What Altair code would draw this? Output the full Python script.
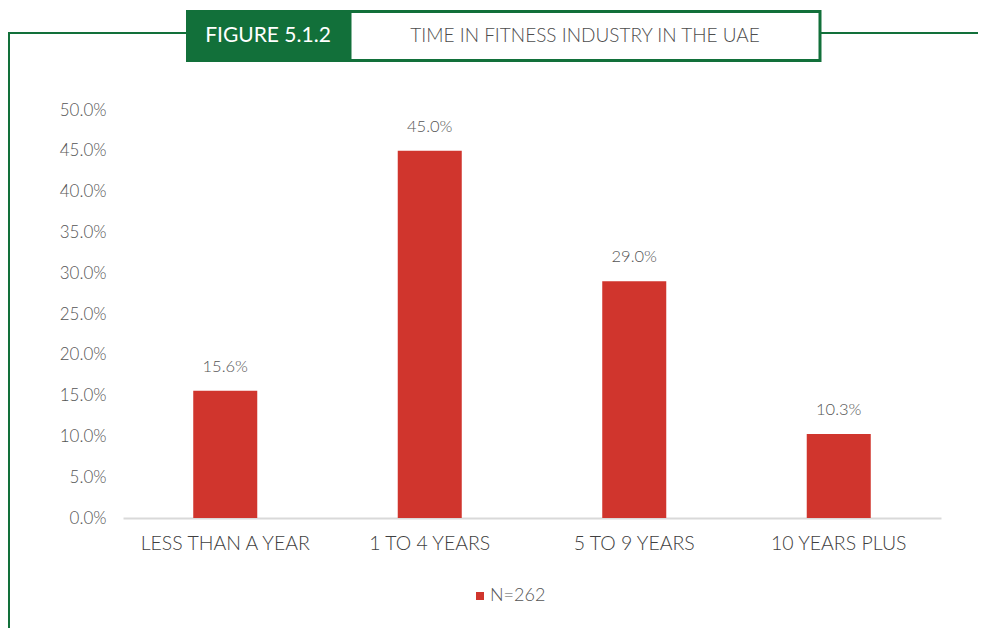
import altair as alt
import pandas as pd

categories = ["LESS THAN A YEAR", "1 TO 4 YEARS", "5 TO 9 YEARS", "10 YEARS PLUS"]
values = [15.6, 45.0, 29.0, 10.3]
series_name = "N=262"
y_ticks = [0, 5, 10, 15, 20, 25, 30, 35, 40, 45, 50]
fig_label = "FIGURE 5.1.2"
fig_title = "TIME IN FITNESS INDUSTRY IN THE UAE"

RED = "#d0352d"
GREEN = "#12703a"
FONT = "Lato"

df = pd.DataFrame({"cat": categories, "val": values, "series": series_name})
df["lab"] = [f"{v:.1f}%" for v in values]

W, H = 818, 408

x = alt.X("cat:N", sort=categories, title=None,
          scale=alt.Scale(paddingInner=0.687, paddingOuter=0.3435),
          axis=alt.Axis(labelAngle=0, labelFont=FONT, labelFontSize=19.5, labelColor="#404040",
                        labelPadding=16, ticks=False, domainColor="#d9d9d9", domainWidth=2,
                        labelFontWeight=300))
y = alt.Y("val:Q", title=None, scale=alt.Scale(domain=[0, 50]),
          axis=alt.Axis(values=y_ticks, labelExpr="format(datum.value, '.1f') + '%'",
                        labelFont=FONT, labelFontSize=17, labelColor="#555555",
                        labelPadding=17, grid=False, domain=False, ticks=False,
                        labelFontWeight=300))

bars = alt.Chart(df).mark_bar(color=RED).encode(
    x=x, y=y,
    color=alt.Color("series:N", scale=alt.Scale(range=[RED]), title=None,
                    legend=alt.Legend(orient="none", legendX=348, legendY=477,
                                      symbolType="square", symbolSize=64,
                                      labelFont=FONT, labelFontSize=18, labelColor="#555555",
                                      labelFontWeight=300,
                                      symbolStrokeWidth=0, labelOffset=1))
)
labels = alt.Chart(df).mark_text(baseline="bottom", dy=-16, font=FONT, fontSize=16.5,
                                 fontWeight=300, color="#555555").encode(
    x=alt.X("cat:N", sort=categories), y="val:Q", text="lab:N")

one = pd.DataFrame({"a": [0]})
base = alt.Chart(one)

vline = base.mark_rule(color=GREEN, strokeWidth=2).encode(
    x=alt.value(-114), y=alt.value(-77), y2=alt.value(520))
hline1 = base.mark_rule(color=GREEN, strokeWidth=2).encode(
    x=alt.value(-115), x2=alt.value(63), y=alt.value(-77))
hline2 = base.mark_rule(color=GREEN, strokeWidth=2).encode(
    x=alt.value(697), x2=alt.value(860), y=alt.value(-77))
gbox = base.mark_rect(color=GREEN).encode(
    x=alt.value(63), x2=alt.value(227), y=alt.value(-100), y2=alt.value(-48))
wbox = base.mark_rect(fill="white", stroke=GREEN, strokeWidth=3).encode(
    x=alt.value(227), x2=alt.value(697), y=alt.value(-98.5), y2=alt.value(-49.5))
gtext = base.mark_text(color="white", font=FONT, fontSize=21, fontWeight="normal").encode(
    x=alt.value(145), y=alt.value(-74), text=alt.value(fig_label))
ttext = base.mark_text(color="#4d4d4d", font=FONT, fontSize=19, fontWeight=300).encode(
    x=alt.value(462), y=alt.value(-74), text=alt.value(fig_title))

chart = alt.layer(bars, labels, vline, hline1, hline2, gbox, wbox, gtext, ttext).properties(
    width=W, height=H,
    background="white",
    autosize=alt.AutoSizeParams(type="none"),
    padding={"left": 115, "top": 102, "right": 37, "bottom": 110},
).configure_view(strokeWidth=0, stroke=None)

chart.save("out.html", embed_options={"renderer": "svg", "actions": False})
